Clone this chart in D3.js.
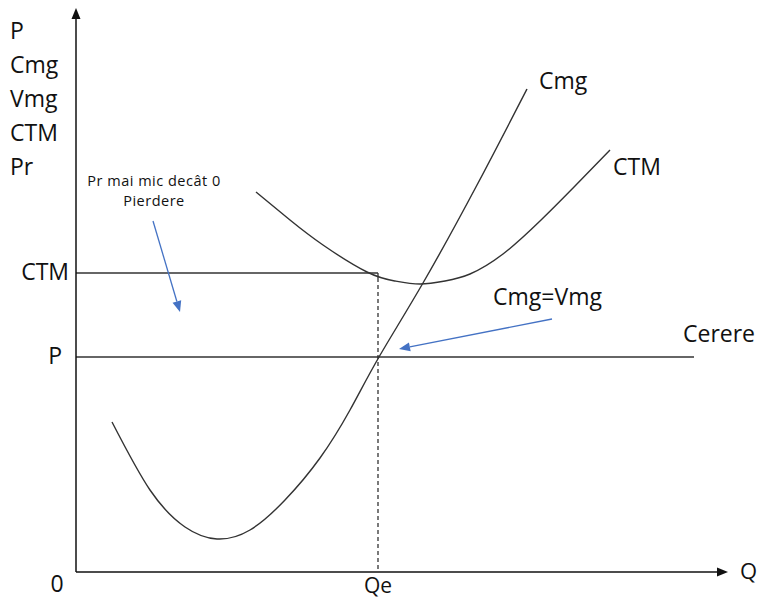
<!DOCTYPE html>
<html>
<head>
<meta charset="utf-8">
<script src="https://cdn.jsdelivr.net/npm/d3@7"></script>
<style>
  body { margin: 0; background: #fff; }
  text { font-family: "Open Sans", sans-serif; fill: #111; }
</style>
</head>
<body>
<div id="chart"></div>
<script>
// values (quantity units, price units)
var cmgQ = [36, 74, 109, 141, 174, 209, 244, 274, 303, 347, 401, 451];
var cmgP = [150, 82, 45, 33, 42, 72, 114, 162, 215, 289, 387, 483];
var ctmQ = [180, 214, 247, 291, 319, 344, 369, 394, 427, 464, 499, 534];
var ctmP = [380, 352, 327, 300, 291, 288, 291, 298, 318, 351, 386, 422];
var yTitle = ["P", "Cmg", "Vmg", "CTM", "Pr"];
var qe = 302, priceLevel = 215, ctmLevel = 299, demandEnd = 618;
var qMax = 652, pMax = 564;

const W = 763, H = 598;

const svg = d3.select("#chart")
    .append("svg")
    .attr("width", W)
    .attr("height", H);

var x = d3.scaleLinear().domain([0, qMax]).range([76, 728]);
var y = d3.scaleLinear().domain([0, pMax]).range([572, 8]);

var toPts = (qs, ps) => qs.map((q, i) => [x(q), y(ps[i])]);
var curve = d3.line().curve(d3.curveNatural);

// horizontal lines: CTM level and price (Cerere)
svg.append("line")
    .attr("x1", x(0)).attr("x2", x(qe))
    .attr("y1", y(ctmLevel)).attr("y2", y(ctmLevel))
    .attr("stroke", "#333").attr("stroke-width", 1.5);
svg.append("line")
    .attr("x1", x(qe)).attr("x2", x(qe))
    .attr("y1", y(ctmLevel)).attr("y2", y(ctmLevel) + 5)
    .attr("stroke", "#333").attr("stroke-width", 1.3);
svg.append("line")
    .attr("x1", x(0)).attr("x2", x(demandEnd))
    .attr("y1", y(priceLevel)).attr("y2", y(priceLevel))
    .attr("stroke", "#333").attr("stroke-width", 1.5);

// dashed Qe line
svg.append("line")
    .attr("x1", x(qe)).attr("x2", x(qe))
    .attr("y1", y(ctmLevel) + 5).attr("y2", y(0))
    .attr("stroke", "#222").attr("stroke-width", 1.2)
    .attr("stroke-dasharray", "4,3");

// curves
svg.append("path")
    .attr("d", curve(toPts(cmgQ, cmgP)))
    .attr("fill", "none").attr("stroke", "#333").attr("stroke-width", 1.4);
svg.append("path")
    .attr("d", curve(toPts(ctmQ, ctmP)))
    .attr("fill", "none").attr("stroke", "#333").attr("stroke-width", 1.4);

// axes with arrow heads
svg.append("line")
    .attr("x1", x(0)).attr("x2", x(0))
    .attr("y1", y(0)).attr("y2", y(pMax) + 8)
    .attr("stroke", "#111").attr("stroke-width", 1.5);
svg.append("path")
    .attr("d", `M${x(0)},${y(pMax)} L${x(0) - 4.5},${y(pMax) + 11} L${x(0) + 4.5},${y(pMax) + 11} Z`)
    .attr("fill", "#111");
svg.append("line")
    .attr("x1", x(0)).attr("x2", x(qMax) - 8)
    .attr("y1", y(0)).attr("y2", y(0))
    .attr("stroke", "#111").attr("stroke-width", 1.5);
svg.append("path")
    .attr("d", `M${x(qMax)},${y(0)} L${x(qMax) - 11},${y(0) - 4.5} L${x(qMax) - 11},${y(0) + 4.5} Z`)
    .attr("fill", "#111");

// blue annotation arrows
var blue = "#4472C4";
function arrow(x1, y1, x2, y2) {
    var a = Math.atan2(y2 - y1, x2 - x1), L = 11, w = 4.5;
    var bx = x2 - L * Math.cos(a), by = y2 - L * Math.sin(a);
    svg.append("line")
        .attr("x1", x1).attr("y1", y1).attr("x2", bx).attr("y2", by)
        .attr("stroke", blue).attr("stroke-width", 1.3);
    svg.append("path")
        .attr("d", `M${x2},${y2} L${bx - w * Math.sin(a)},${by + w * Math.cos(a)} L${bx + w * Math.sin(a)},${by - w * Math.cos(a)} Z`)
        .attr("fill", blue);
}
arrow(x(77), y(351), x(104), y(260));
arrow(x(476), y(253), x(323), y(223));

// texts
svg.selectAll(".ytitle")
    .data(yTitle)
    .enter().append("text")
    .attr("x", 10)
    .attr("y", (d, i) => 39 + i * 34)
    .style("font-size", "23px")
    .text(d => d);

svg.append("text").attr("x", 69).attr("y", y(ctmLevel) + 7)
    .attr("text-anchor", "end").style("font-size", "23px").text("CTM");
svg.append("text").attr("x", 62).attr("y", y(priceLevel) + 7)
    .attr("text-anchor", "end").style("font-size", "23px").text("P");
svg.append("text").attr("x", 57).attr("y", 592)
    .attr("text-anchor", "middle").style("font-size", "23px").text("0");
svg.append("text").attr("x", x(qe)).attr("y", 593)
    .attr("text-anchor", "middle").style("font-size", "21px").text("Qe");
svg.append("text").attr("x", 740).attr("y", 579)
    .style("font-size", "22px").text("Q");

svg.append("text").attr("x", 539).attr("y", 89).style("font-size", "23px").text("Cmg");
svg.append("text").attr("x", 613).attr("y", 175).style("font-size", "23px").text("CTM");
svg.append("text").attr("x", 493).attr("y", 305).style("font-size", "23px").text("Cmg=Vmg");
svg.append("text").attr("x", 683).attr("y", 342).style("font-size", "23px").text("Cerere");

svg.append("text").attr("x", 154).attr("y", 186)
    .attr("text-anchor", "middle").style("font-size", "14.5px")
    .style("letter-spacing", "0.5px").text("Pr mai mic decât 0");
svg.append("text").attr("x", 154).attr("y", 206)
    .attr("text-anchor", "middle").style("font-size", "14.5px")
    .style("letter-spacing", "0.5px").text("Pierdere");
</script>
</body>
</html>
